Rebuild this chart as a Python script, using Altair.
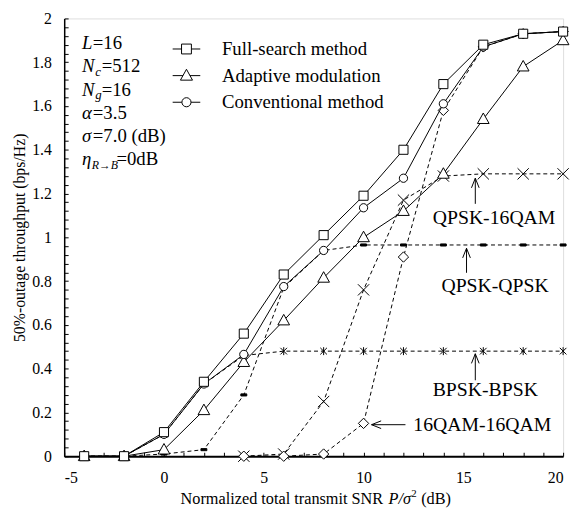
import altair as alt
import pandas as pd

# ---------------- data ----------------
snr = [-4, -2, 0, 2, 4, 6, 8, 10, 12, 14, 16, 18, 20]
full_search = [0, 0, 0.11, 0.34, 0.56, 0.83, 1.01, 1.19, 1.40, 1.70, 1.88, 1.93, 1.94]
adaptive = [0, 0, 0.03, 0.21, 0.43, 0.62, 0.815, 1.00, 1.12, 1.29, 1.54, 1.78, 1.90]
conventional = [0, 0, 0.10, 0.33, 0.465, 0.775, 0.94, 1.135, 1.27, 1.61, 1.87, 1.93, 1.94]
bpsk_bpsk = [0, 0, 0.10, 0.33, 0.46, 0.48, 0.48, 0.48, 0.48, 0.48, 0.48, 0.48, 0.48]
qpsk_qpsk = [0, 0, 0.01, 0.03, 0.28, 0.77, 0.94, 0.965, 0.965, 0.965, 0.965, 0.965, 0.965]
snr_hi = [4, 6, 8, 10, 12, 14, 16, 18, 20]
qpsk_16qam = [0, 0.01, 0.25, 0.76, 1.17, 1.28, 1.29, 1.29, 1.29]
qam16_qam16 = [0, 0, 0.01, 0.15, 0.91, 1.58, 1.87, 1.93, 1.94]

legend_names = ["Full-search method", "Adaptive modulation", "Conventional method"]
x_tick_labels = [-5, 0, 5, 10, 15, 20]
y_tick_labels = [0, 0.2, 0.4, 0.6, 0.8, 1, 1.2, 1.4, 1.6, 1.8, 2]

annot_text = ["QPSK-16QAM", "QPSK-QPSK", "BPSK-BPSK", "16QAM-16QAM"]
annot_x = [16.54, 16.59, 16.1, 15.95]
annot_y = [1.09, 0.775, 0.302, 0.14]

FONT = "Liberation Serif, Times New Roman, serif"
W, H = 506, 444

xscale = alt.Scale(domain=[-5, 20], nice=False, zero=False)
yscale = alt.Scale(domain=[0, 2], nice=False, zero=False)

X_SHAPE = "M-1,-1L1,1M-1,1L1,-1"
AST_SHAPE = "M-1,-1L1,1M-1,1L1,-1M0,-1.2L0,1.2"
BAR_SHAPE = "M-1,-0.35L1,-0.35L1,0.35L-1,0.35Z"
TRI_SHAPE = "M0,-1.05L1,0.75L-1,0.75Z"
UP_HEAD = "M-0.4,1L0,0L0.4,1"
LEFT_HEAD = "M1,-0.4L0,0L1,0.4"


def enc(ch):
    return ch.encode(
        x=alt.X("x:Q", scale=xscale, axis=None),
        y=alt.Y("y:Q", scale=yscale, axis=None),
    )


def series(xs, ys, dash, shape, size, fill):
    df = pd.DataFrame({"x": xs, "y": ys})
    lkw = dict(color="black", strokeWidth=1)
    if dash:
        lkw["strokeDash"] = dash
    line = enc(alt.Chart(df).mark_line(**lkw))
    if fill == "none":
        pts = enc(alt.Chart(df).mark_point(shape=shape, size=size, filled=False,
                                            color="black", strokeWidth=1, opacity=1))
    else:
        pts = enc(alt.Chart(df).mark_point(shape=shape, size=size, filled=True,
                                            fill=fill, stroke="black", strokeWidth=1,
                                            opacity=1))
    return line, pts


layers = []
dashed = [
    (snr, bpsk_bpsk, AST_SHAPE, 45, "none"),
    (snr, qpsk_qpsk, BAR_SHAPE, 36, "black"),
    (snr_hi, qpsk_16qam, X_SHAPE, 130, "none"),
    (snr_hi, qam16_qam16, "diamond", 110, "white"),
]
solid = [
    (snr, adaptive, TRI_SHAPE, 140, "white"),
    (snr, conventional, "circle", 70, "white"),
    (snr, full_search, "square", 85, "white"),
]
dl, dp = [], []
for xs, ys, shp, sz, fl in dashed:
    l, p = series(xs, ys, [4, 3], shp, sz, fl)
    dl.append(l)
    dp.append(p)
sl, sp = [], []
for xs, ys, shp, sz, fl in solid:
    l, p = series(xs, ys, None, shp, sz, fl)
    sl.append(l)
    sp.append(p)
layers += dl + dp + sl + sp

# ---------------- axes ----------------
axis_df = pd.DataFrame({"x": snr, "y": full_search})
main_axes = alt.Chart(axis_df).mark_point(opacity=0).encode(
    x=alt.X("x:Q", scale=xscale, title=None,
            axis=alt.Axis(values=x_tick_labels, ticks=False, tickSize=0, grid=False,
                          labelExpr="'' + datum.value", labelFont=FONT, labelFontSize=16,
                          labelColor="black", labelPadding=14, domainColor="black",
                          domainWidth=2)),
    y=alt.Y("y:Q", scale=yscale, title="50%-outage throughput (bps/Hz)",
            axis=alt.Axis(values=y_tick_labels, ticks=False, tickSize=0, grid=False,
                          labelExpr="'' + datum.value", labelFont=FONT, labelFontSize=16,
                          labelColor="black", labelPadding=13, domainColor="black",
                          domainWidth=1.5, titleFont=FONT, titleFontSize=16,
                          titleFontWeight="normal", titleColor="black",
                          titleX=-45, titleY=H / 2, titleBaseline="middle",
                          titleAlign="center")),
)
minor_x = list(range(-5, 21))
minor_y = [round(i * 0.04, 2) for i in range(51)]
tick_axes = alt.Chart(axis_df).mark_point(opacity=0).encode(
    x=alt.X("x:Q", scale=xscale, title=None,
            axis=alt.Axis(orient="top", offset=-H, values=minor_x, labels=False,
                          domain=False, grid=False, tickSize=4, tickColor="black",
                          tickWidth=1)),
    y=alt.Y("y:Q", scale=yscale, title=None,
            axis=alt.Axis(orient="right", offset=-W, values=minor_y, labels=False,
                          domain=False, grid=False, tickSize=4, tickColor="black",
                          tickWidth=1)),
)

# ---------------- annotations ----------------
ann_df = pd.DataFrame({"t": annot_text, "x": annot_x, "y": annot_y})
ann = enc(alt.Chart(ann_df).mark_text(font=FONT, fontSize=20, color="black",
                                      align="center", baseline="middle")).encode(text="t:N")

vert = pd.DataFrame({"x": [15.6, 15.16, 15.6], "y": [1.153, 0.838, 0.347],
                     "y2": [1.27, 0.95, 0.468]})
vrule = alt.Chart(vert).mark_rule(color="black", strokeWidth=1).encode(
    x=alt.X("x:Q", scale=xscale, axis=None), y=alt.Y("y:Q", scale=yscale, axis=None),
    y2="y2:Q")
vhead = alt.Chart(vert).mark_point(shape=UP_HEAD, size=380, filled=False, color="black",
                                   strokeWidth=1, opacity=1).encode(
    x=alt.X("x:Q", scale=xscale, axis=None), y=alt.Y("y2:Q", scale=yscale, axis=None))
horiz = pd.DataFrame({"x": [12.1], "x2": [10.4], "y": [0.144]})
hrule = alt.Chart(horiz).mark_rule(color="black", strokeWidth=1).encode(
    x=alt.X("x:Q", scale=xscale, axis=None), x2="x2:Q",
    y=alt.Y("y:Q", scale=yscale, axis=None))
hhead = alt.Chart(horiz).mark_point(shape=LEFT_HEAD, size=380, filled=False, color="black",
                                    strokeWidth=1, opacity=1).encode(
    x=alt.X("x2:Q", scale=xscale, axis=None), y=alt.Y("y:Q", scale=yscale, axis=None))

# ---------------- legend (pixel placed, relative to plot area) ----------------
leg_df = pd.DataFrame({"name": legend_names, "py": [31, 58, 85],
                       "x1": [110] * 3, "x2": [138] * 3, "mx": [124] * 3, "tx": [160] * 3})
leg_line = alt.Chart(leg_df).mark_rule(color="black", strokeWidth=1).encode(
    x=alt.X("x1:Q", scale=None, axis=None), x2="x2:Q",
    y=alt.Y("py:Q", scale=None, axis=None))
leg_shapes = ["square", TRI_SHAPE, "circle"]
leg_sizes = [100, 150, 85]
leg_marks = []
for i in range(3):
    leg_marks.append(alt.Chart(leg_df.iloc[[i]]).mark_point(
        shape=leg_shapes[i], size=leg_sizes[i], filled=True, fill="white",
        stroke="black", strokeWidth=1, opacity=1).encode(
        x=alt.X("mx:Q", scale=None, axis=None), y=alt.Y("py:Q", scale=None, axis=None)))
leg_text = alt.Chart(leg_df).mark_text(font=FONT, fontSize=19, color="black", align="left",
                                       baseline="middle").encode(
    x=alt.X("tx:Q", scale=None, axis=None), y=alt.Y("py:Q", scale=None, axis=None),
    text="name:N")

# ---------------- text pieces with italics (pixel placed, relative to plot area) ----------
b = [31, 54.6, 78.2, 101.8, 125.4, 149]
tb = 492.5  # x-axis title baseline
seg = [
    ("L", 18, b[0], 19, "italic"), ("=16", 29, b[0], 19, "normal"),
    ("N", 18, b[1], 19, "italic"), ("c", 31.5, b[1] + 4, 13, "italic"),
    ("=512", 38, b[1], 19, "normal"),
    ("N", 18, b[2], 19, "italic"), ("g", 31.5, b[2] + 4, 13, "italic"),
    ("=16", 38, b[2], 19, "normal"),
    ("α", 18, b[3], 19, "italic"), ("=3.5", 29, b[3], 19, "normal"),
    ("σ", 18, b[4], 19, "italic"), ("=7.0 (dB)", 29, b[4], 19, "normal"),
    ("η", 18, b[5], 19, "italic"), ("R→B", 28, b[5] + 4, 12, "italic"),
    ("=0dB", 53, b[5], 19, "normal"),
    ("Normalized total transmit SNR", 118, tb, 16.5, "normal"),
    ("P/σ", 329, tb, 16.5, "italic"),
    ("2", 352, tb - 7, 11, "normal"),
    ("(dB)", 362, tb, 16.5, "normal"),
]
par_layers = []
for style in ["italic", "normal"]:
    for fs in sorted(set(s[3] for s in seg)):
        rows = [s for s in seg if s[4] == style and s[3] == fs]
        if not rows:
            continue
        df = pd.DataFrame({"t": [r[0] for r in rows], "px": [r[1] for r in rows],
                           "py": [r[2] for r in rows]})
        par_layers.append(alt.Chart(df).mark_text(
            font=FONT, fontSize=fs, fontStyle=style, color="black", align="left",
            baseline="alphabetic").encode(
            x=alt.X("px:Q", scale=None, axis=None), y=alt.Y("py:Q", scale=None, axis=None),
            text="t:N"))

chart = alt.layer(
    main_axes, tick_axes, *layers, ann, vrule, vhead, hrule, hhead,
    leg_line, *leg_marks, leg_text, *par_layers
).resolve_axis(x="independent", y="independent").properties(
    width=W, height=H,
    autosize=alt.AutoSizeParams(type="none"),
    padding={"left": 57, "top": 7, "right": 8, "bottom": 53},
).configure_view(stroke="#333333", strokeWidth=1).configure(
    background="white", font=FONT)

chart.save("out.html", embed_options={"renderer": "svg", "actions": False})
